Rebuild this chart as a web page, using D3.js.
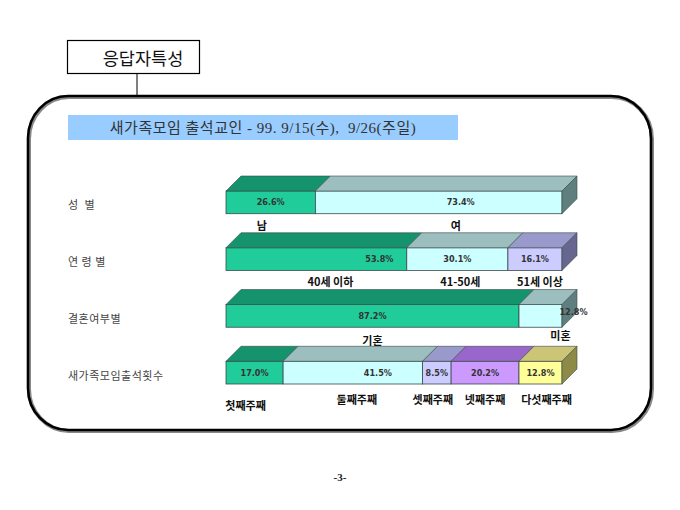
<!DOCTYPE html>
<html><head><meta charset="utf-8">
<script src="https://cdn.jsdelivr.net/npm/d3@7"></script>
<style>html,body{margin:0;padding:0;background:#fff;}</style>
</head><body>
<svg id="c" width="680" height="510"></svg>
<script>
// ---- data ----
const groups = ["성  별", "연 령 별", "결혼여부별", "새가족모임출석횟수"];
const segLabels = [
  ["남", "여"],
  ["40세 이하", "41-50세", "51세 이상"],
  ["기혼", "미혼"],
  ["첫째주째", "둘째주째", "셋째주째", "넷째주째", "다섯째주째"]
];
const segValues = [
  [26.6, 73.4],
  [53.8, 30.1, 16.1],
  [87.2, 12.8],
  [17.0, 41.5, 8.5, 20.2, 12.8]
];
const pageTitle = "응답자특성";
const subTitle = "새가족모임 출석교인 - 99. 9/15(수),  9/26(주일)";
const pageNo = "-3-";

// ---- layout / style ----
const svg = d3.select("#c");
const x = d3.scaleLinear().domain([0, 100]).range([226, 562]);
const y = d3.scaleBand().domain(groups).range([191, 384]).paddingInner(0.6).paddingOuter(0);
const D = 15; // 3D depth
const front = ["#20CC99", "#CCFFFF", "#CCCCFF", "#CC99FF", "#FFFF99"];
const topC  = ["#14936C", "#9DBEBE", "#9999CC", "#9966CC", "#CCC477"];
const sideC = ["#0E6E50", "#5F7F7F", "#66668F", "#6B4890", "#8C8A46"];
const KR = "'Noto Sans CJK KR', sans-serif";

// nudges for labels that are not centred in the original (layout constants)
const valNudge = {"0-1": [22, 0], "1-0": [63, 0], "2-1": [33, -4], "3-1": [25, 0]};
const catNudge = {"0-0": [-9, 0], "0-1": [17, 0], "1-0": [14, 0], "1-1": [3, 0], "1-2": [5, 0],
                  "2-1": [20, -5], "3-0": [-9, 6], "3-1": [4, 0], "3-2": [-4, 0], "3-4": [6, 0]};
const catDy = [11, 11, 13, 15];

// outer rounded box
svg.append("rect").attr("x", 29).attr("y", 97).attr("width", 623).attr("height", 334)
  .attr("rx", 40).attr("ry", 42).attr("fill", "none").attr("stroke", "#888").attr("stroke-width", 4);
svg.append("rect").attr("x", 28).attr("y", 96).attr("width", 623).attr("height", 334)
  .attr("rx", 40).attr("ry", 42).attr("fill", "none").attr("stroke", "#000").attr("stroke-width", 2.6);

// title box
svg.append("line").attr("x1", 137).attr("x2", 137).attr("y1", 73).attr("y2", 96).attr("stroke", "#000").attr("stroke-width", 1);
svg.append("rect").attr("x", 67.5).attr("y", 40.5).attr("width", 132).attr("height", 33)
  .attr("fill", "#fff").attr("stroke", "#000").attr("stroke-width", 1.2);
svg.append("text").attr("x", 143).attr("y", 57).attr("text-anchor", "middle").attr("dominant-baseline", "central")
  .attr("font-family", KR).attr("font-size", 17.5).attr("fill", "#111").text(pageTitle);

// subtitle band
svg.append("rect").attr("x", 68).attr("y", 115).attr("width", 390).attr("height", 25).attr("fill", "#99CCFF");
svg.append("text").attr("x", 263).attr("y", 128).attr("text-anchor", "middle").attr("dominant-baseline", "central")
  .attr("font-family", "'Liberation Serif', 'Noto Sans CJK KR', serif").attr("font-size", 15).attr("fill", "#333")
  .attr("letter-spacing", 0.5).style("white-space", "pre")
  .text(subTitle);

// group labels
svg.selectAll("text.grp").data(groups).join("text").attr("class", "grp")
  .attr("x", 68).attr("y", g => y(g) + y.bandwidth() / 2 + 2)
  .attr("dominant-baseline", "central").attr("font-family", KR).attr("font-size", 11)
  .attr("fill", "#444").attr("letter-spacing", 0.5).style("white-space", "pre").text(g => g);

// bars
groups.forEach((g, gi) => {
  const vals = segValues[gi];
  let acc = 0;
  const segs = vals.map((v, i) => { const s = {i, v, a: acc, b: acc + v, label: segLabels[gi][i]}; acc += v; return s; });
  const y0 = y(g), h = y.bandwidth();
  const grp = svg.append("g");
  // fronts
  grp.selectAll("rect").data(segs).join("rect")
    .attr("x", d => x(d.a)).attr("y", y0).attr("width", d => x(d.b) - x(d.a)).attr("height", h)
    .attr("fill", d => front[d.i]).attr("stroke", "#3a4a4a").attr("stroke-width", 0.8);
  // tops
  grp.selectAll("path.top").data(segs).join("path").attr("class", "top")
    .attr("d", d => `M${x(d.a)},${y0}L${x(d.b)},${y0}L${x(d.b) + D},${y0 - D}L${x(d.a) + D},${y0 - D}Z`)
    .attr("fill", d => topC[d.i]).attr("stroke", "#3a4a4a").attr("stroke-width", 0.6);
  // side of the last segment
  const last = segs[segs.length - 1];
  grp.append("path")
    .attr("d", `M${x(last.b)},${y0}L${x(last.b) + D},${y0 - D}L${x(last.b) + D},${y0 + h - D}L${x(last.b)},${y0 + h}Z`)
    .attr("fill", sideC[last.i]).attr("stroke", "#3a4a4a").attr("stroke-width", 0.6);
  // value labels
  grp.selectAll("text.val").data(segs).join("text").attr("class", "val")
    .attr("x", d => (x(d.a) + x(d.b)) / 2 + ((valNudge[gi + "-" + d.i] || [0, 0])[0]))
    .attr("y", d => y0 + h / 2 + ((valNudge[gi + "-" + d.i] || [0, 0])[1]))
    .attr("text-anchor", "middle").attr("dominant-baseline", "central")
    .attr("font-family", "'DejaVu Sans Condensed', 'DejaVu Sans', sans-serif").attr("font-weight", "bold")
    .attr("font-size", 9).attr("fill", "#333")
    .text(d => d3.format(".1f")(d.v) + "%");
  // category labels
  grp.selectAll("text.cat").data(segs).join("text").attr("class", "cat")
    .attr("x", d => (x(d.a) + x(d.b)) / 2 + ((catNudge[gi + "-" + d.i] || [0, 0])[0]))
    .attr("y", d => y0 + h + catDy[gi] + ((catNudge[gi + "-" + d.i] || [0, 0])[1]))
    .attr("text-anchor", "middle").attr("dominant-baseline", "central")
    .attr("font-family", KR).attr("font-weight", "bold").attr("font-size", 11).attr("fill", "#111")
    .text(d => d.label);
});

// page number
svg.append("text").attr("x", 340).attr("y", 477).attr("text-anchor", "middle").attr("dominant-baseline", "central")
  .attr("font-family", "'Liberation Serif', serif").attr("font-weight", "bold").attr("font-size", 11).attr("fill", "#222")
  .text(pageNo);
</script>
</body></html>
